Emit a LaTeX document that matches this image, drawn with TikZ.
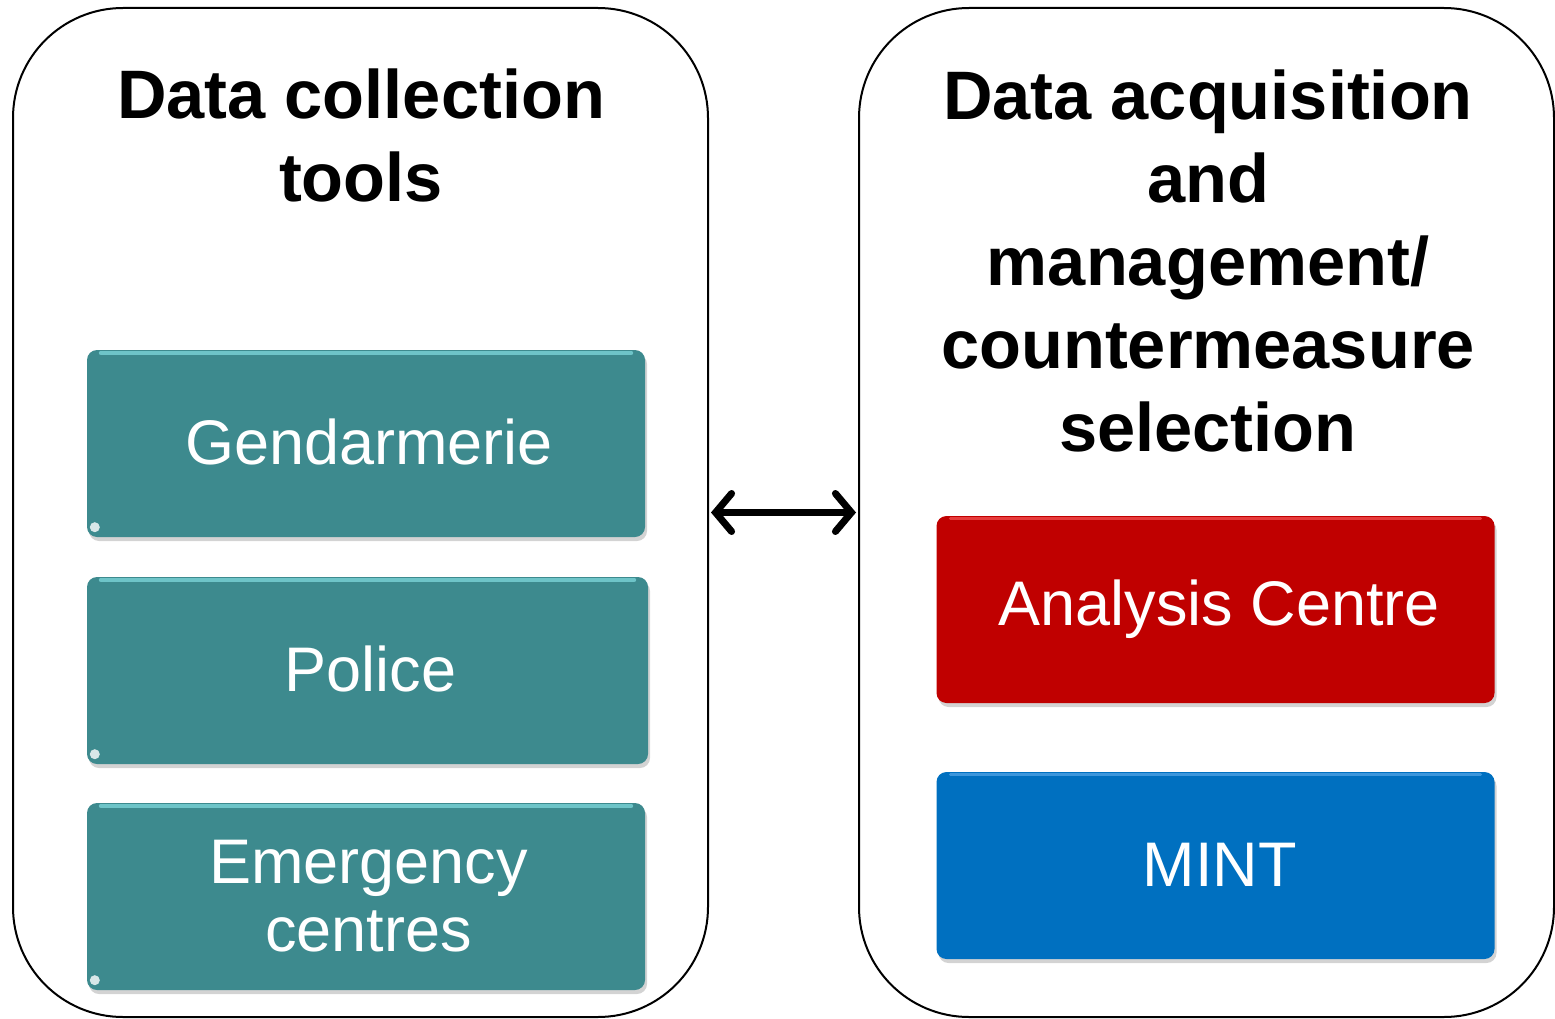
\documentclass[tikz,border=0pt]{standalone}
\usepackage{fontspec}
\setmainfont{Liberation Sans}
\usetikzlibrary{arrows.meta,shadows}
\definecolor{tealbox}{RGB}{61,138,142}
\definecolor{teallight}{RGB}{110,196,200}
\definecolor{redbox}{RGB}{192,0,0}
\definecolor{redlight}{RGB}{230,60,60}
\definecolor{bluebox}{RGB}{0,112,192}
\definecolor{bluelight}{RGB}{60,150,220}
\tikzset{
  outerbox/.style={draw=black, line width=2pt, rounded corners=110pt, minimum width=695pt, minimum height=1009pt, inner sep=0pt},
  titletext/.style={align=center, font=\fontsize{68.6}{83}\selectfont\bfseries, inner sep=0pt},
  itembox/.style={rounded corners=10pt, minimum width=558pt, minimum height=187pt, inner sep=0pt, text=white, align=center,
     font=\fontsize{63}{68}\selectfont, drop shadow={shadow xshift=2pt, shadow yshift=-4pt, opacity=0.35}},
  tealitem/.style={itembox, fill=tealbox},
  reditem/.style={itembox, fill=redbox},
  blueitem/.style={itembox, fill=bluebox},
  biarrow/.style={line width=7pt, {Straight Barb[length=16pt,width=38pt,line cap=round]}-{Straight Barb[length=16pt,width=38pt,line cap=round]}}
}
\begin{document}
\begin{tikzpicture}[x=1pt,y=-1pt]
\useasboundingbox (0,0) rectangle (1555,1019);
\node[outerbox] (left) at (360.5,512.5) {};
\node[outerbox] (right) at (1206.5,512.5) {};
\node[titletext] (lt) at (361,135) {Data collection\\tools};
\node[titletext] (rt) at (1208,261) {Data acquisition\\and\\management/\\countermeasure\\selection};
\node[tealitem] (g) at (366,443.5) {\raisebox{3pt}{\hspace{6pt}Gendarmerie}};
\node[tealitem, minimum width=561pt] (p) at (367.5,670.5) {\raisebox{3pt}{\hspace{6pt}Police}};
\node[tealitem] (e) at (366,896.5) {\hspace{5pt}Emergency\\\hspace{5pt}centres};
\node[reditem] (a) at (1215.5,609.5) {\raisebox{3pt}{\hspace{8pt}Analysis Centre}};
\node[blueitem] (m) at (1215.5,865.5) {\raisebox{2pt}{\hspace{8pt}MINT}};
\foreach \n in {g,p,e}{
  \draw[teallight, line width=4pt, line cap=round] ([xshift=14pt,yshift=-3pt]\n.north west) -- ([xshift=-14pt,yshift=-3pt]\n.north east);
  \fill[white, opacity=0.8] ([xshift=8pt,yshift=10pt]\n.south west) circle (5pt);
}
\draw[redlight, line width=3pt, line cap=round] ([xshift=14pt,yshift=-3pt]a.north west) -- ([xshift=-14pt,yshift=-3pt]a.north east);
\draw[bluelight, line width=3pt, line cap=round] ([xshift=14pt,yshift=-3pt]m.north west) -- ([xshift=-14pt,yshift=-3pt]m.north east);
\draw[biarrow] ([xshift=2pt]left.east) -- ([xshift=-2pt]right.west);
\end{tikzpicture}
\end{document}
